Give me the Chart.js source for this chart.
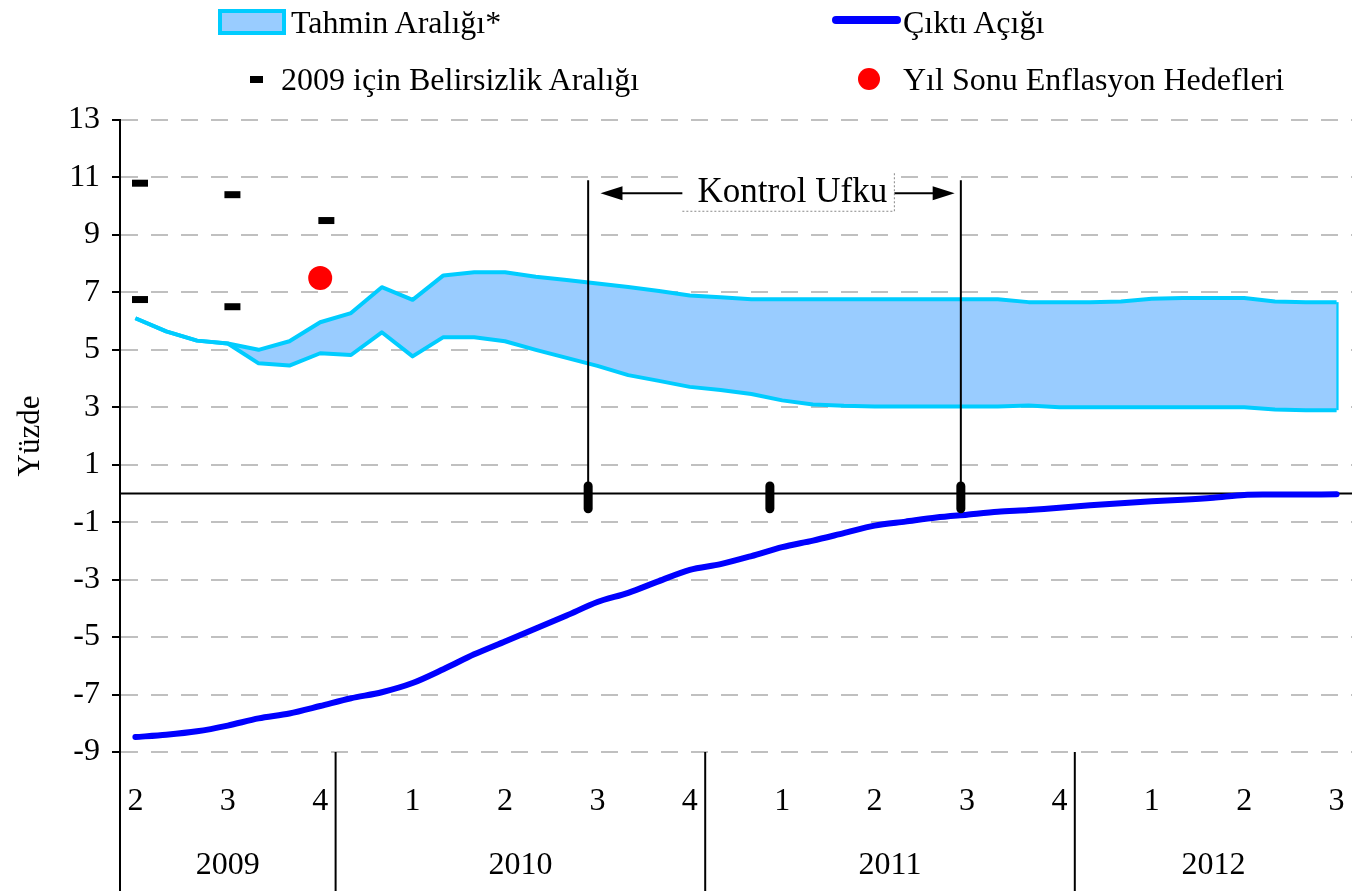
<!DOCTYPE html>
<html>
<head>
<meta charset="utf-8">
<script src="https://cdn.jsdelivr.net/npm/chart.js@4.4.0/dist/chart.umd.min.js"></script>
<style>
  body { margin: 0; background: #fff; }
  #wrap { position: relative; width: 1352px; height: 891px; font-family: "Liberation Serif", serif; }
  #wrap canvas { position: absolute; left: 0; top: 0; }
  .leg { position: absolute; }
  .txt { font-size: 32px; line-height: 32px; color: #000; white-space: nowrap; }
</style>
</head>
<body>
<div id="wrap">
  <canvas id="chart" width="1352" height="891"></canvas>
  <div class="leg" style="left:218px;top:9px;width:60px;height:18px;border:4px solid #00ccff;background:#99ccff"></div>
  <div class="leg txt" style="left:291px;top:6px">Tahmin Aralığı*</div>
  <div class="leg" style="left:832px;top:16px;width:69px;height:8px;background:#0000ff;border-radius:4px"></div>
  <div class="leg txt" style="left:903px;top:6px">Çıktı Açığı</div>
  <div class="leg" style="left:250px;top:76px;width:13px;height:7px;background:#000"></div>
  <div class="leg txt" style="left:281px;top:63px">2009 için Belirsizlik Aralığı</div>
  <div class="leg" style="left:858px;top:68px;width:22px;height:22px;border-radius:50%;background:#ff0000"></div>
  <div class="leg txt" style="left:903px;top:63px">Yıl Sonu Enflasyon Hedefleri</div>
</div>
<script>
// aylar (x ekseni: ay sırası)
const months = [
  "2009-06", "2009-07", "2009-08", "2009-09", "2009-10", "2009-11", "2009-12",
  "2010-01", "2010-02", "2010-03", "2010-04", "2010-05", "2010-06",
  "2010-07", "2010-08", "2010-09", "2010-10", "2010-11", "2010-12",
  "2011-01", "2011-02", "2011-03", "2011-04", "2011-05", "2011-06",
  "2011-07", "2011-08", "2011-09", "2011-10", "2011-11", "2011-12",
  "2012-01", "2012-02", "2012-03", "2012-04", "2012-05", "2012-06",
  "2012-07", "2012-08", "2012-09"
];
const quarterLabels = ["2", "3", "4", "1", "2", "3", "4", "1", "2", "3", "4", "1", "2", "3"];
const years = ["2009", "2010", "2011", "2012"];

const outputGap = [
  -8.48, -8.4, -8.28, -8.08, -7.83, -7.66, -7.4, -7.13, -6.92, -6.6,
  -6.12, -5.6, -5.15, -4.7, -4.25, -3.78, -3.46, -3.05, -2.66, -2.46,
  -2.18, -1.87, -1.64, -1.38, -1.12, -0.98, -0.84, -0.74, -0.64, -0.58,
  -0.5, -0.41, -0.34, -0.27, -0.22, -0.15, -0.05, -0.04, -0.04, -0.03
];
const bandUpper = [
  6.1, 5.64, 5.32, 5.22, 5.0, 5.3, 5.96, 6.28, 7.18, 6.74,
  7.59, 7.7, 7.7, 7.54, 7.43, 7.31, 7.19, 7.05, 6.89, 6.83,
  6.76, 6.76, 6.76, 6.76, 6.76, 6.76, 6.76, 6.76, 6.76, 6.66,
  6.66, 6.66, 6.68, 6.78, 6.8, 6.8, 6.8, 6.68, 6.66, 6.66
];
const bandLower = [
  6.1, 5.64, 5.32, 5.22, 4.53, 4.45, 4.88, 4.82, 5.61, 4.77,
  5.44, 5.44, 5.3, 5.0, 4.72, 4.44, 4.12, 3.92, 3.71, 3.6,
  3.46, 3.24, 3.1, 3.05, 3.03, 3.03, 3.03, 3.03, 3.03, 3.06,
  3.0, 3.0, 3.0, 3.0, 3.0, 3.0, 3.0, 2.92, 2.9, 2.9
];

// 2009 belirsizlik aralığı (alt / üst uçlar)
const rangeX = [0.15, 3.15, 6.2];
const rangeHigh = [10.8, 10.4, 9.5];
const rangeLow = [6.75, 6.5, 5.4];

// yıl sonu enflasyon hedefleri
const targetMonths = ["2009-12", "2010-12", "2011-12"];
const targets = [7.5, 6.5, 5.5];

// kontrol ufku
const ufkuMarks = [14.7, 20.6, 26.8];
const ufkuTop = 10.9, ufkuBottom = -0.67;
const ufkuMarkTop = 0.4;
const ufkuArrowY = 10.45, ufkuArrowFrom = 15.1, ufkuArrowTo = 26.6, ufkuTextX = 21.2;

const serif = "'Liberation Serif', 'Times New Roman', serif";

const xy = (arr) => arr.map((v, i) => ({ x: i, y: v }));

const extras = {
  id: "extras",
  beforeDatasetsDraw(chart) {
    const { ctx, chartArea: a, scales: { y } } = chart;
    const y0 = y.getPixelForValue(0);
    ctx.save();
    ctx.strokeStyle = "#000";
    ctx.lineWidth = 2;
    ctx.beginPath();
    ctx.moveTo(a.left, y0);
    ctx.lineTo(a.right, y0);
    ctx.stroke();
    ctx.restore();
  },
  afterDatasetsDraw(chart) {
    const { ctx, chartArea: a, scales: { x, y } } = chart;
    const H = chart.height;
    ctx.save();
    ctx.strokeStyle = "#000";
    ctx.fillStyle = "#000";
    ctx.lineWidth = 2;

    // y ekseni alta uzatma
    ctx.beginPath();
    ctx.moveTo(a.left, a.bottom);
    ctx.lineTo(a.left, H);
    ctx.stroke();

    // yıl ayraçları ve yıl etiketleri
    ctx.font = "32px " + serif;
    ctx.textAlign = "center";
    ctx.textBaseline = "middle";
    years.forEach((yr) => {
      const idx = months.map((m, i) => (m.startsWith(yr) ? i : -1)).filter((i) => i >= 0);
      const first = idx[0], last = idx[idx.length - 1];
      const x0 = Math.max(x.getPixelForValue(first - 0.5), a.left);
      const x1 = Math.min(x.getPixelForValue(last + 0.5), a.right);
      if (first > 0) {
        ctx.beginPath();
        ctx.moveTo(x0, a.bottom);
        ctx.lineTo(x0, H);
        ctx.stroke();
      }
      ctx.fillText(yr, (x0 + x1) / 2, 866);
    });

    // kontrol ufku dikey çizgileri
    [ufkuMarks[0], ufkuMarks[ufkuMarks.length - 1]].forEach((m) => {
      const px = x.getPixelForValue(m);
      ctx.beginPath();
      ctx.moveTo(px, y.getPixelForValue(ufkuTop));
      ctx.lineTo(px, y.getPixelForValue(ufkuBottom));
      ctx.stroke();
    });
    ctx.lineWidth = 9;
    ctx.lineCap = "round";
    ufkuMarks.forEach((m) => {
      const px = x.getPixelForValue(m);
      ctx.beginPath();
      ctx.moveTo(px, y.getPixelForValue(ufkuMarkTop) + 4);
      ctx.lineTo(px, y.getPixelForValue(ufkuBottom) - 4);
      ctx.stroke();
    });

    // ok
    const ay = y.getPixelForValue(ufkuArrowY);
    const ax0 = x.getPixelForValue(ufkuArrowFrom), ax1 = x.getPixelForValue(ufkuArrowTo);
    ctx.lineWidth = 2;
    ctx.lineCap = "butt";
    ctx.beginPath();
    ctx.moveTo(ax0 + 10, ay);
    ctx.lineTo(ax1 - 10, ay);
    ctx.stroke();
    ctx.beginPath();
    ctx.moveTo(ax0, ay); ctx.lineTo(ax0 + 22, ay - 7); ctx.lineTo(ax0 + 22, ay + 7); ctx.closePath();
    ctx.moveTo(ax1, ay); ctx.lineTo(ax1 - 22, ay - 7); ctx.lineTo(ax1 - 22, ay + 7); ctx.closePath();
    ctx.fill();

    const tx = x.getPixelForValue(ufkuTextX);
    ctx.fillStyle = "#fff";
    ctx.fillRect(tx - 106, ay - 18, 212, 36);
    ctx.strokeStyle = "#888";
    ctx.lineWidth = 1;
    ctx.setLineDash([2, 2]);
    ctx.beginPath();
    ctx.moveTo(tx - 106, ay + 18);
    ctx.lineTo(tx + 106, ay + 18);
    ctx.lineTo(tx + 106, ay - 20);
    ctx.stroke();
    ctx.setLineDash([]);
    ctx.fillStyle = "#000";
    ctx.font = "35px " + serif;
    ctx.fillText("Kontrol Ufku", tx + 4, ay);
    ctx.restore();
  }
};

new Chart(document.getElementById("chart"), {
  type: "line",
  data: {
    datasets: [
      {
        label: "Tahmin Aralığı üst",
        data: xy(bandUpper),
        borderColor: "#00ccff",
        borderWidth: 4,
        pointRadius: 0,
        fill: false,
        tension: 0,
        borderJoinStyle: "round",
      },
      {
        label: "Tahmin Aralığı alt",
        data: xy(bandLower),
        borderColor: "#00ccff",
        backgroundColor: "#99ccff",
        borderWidth: 4,
        pointRadius: 0,
        fill: "-1",
        tension: 0,
        borderJoinStyle: "round",
      },
      {
        label: "Tahmin Aralığı kenar",
        data: [
          { x: months.length - 1, y: bandLower[bandLower.length - 1] },
          { x: months.length - 1, y: bandUpper[bandUpper.length - 1] },
        ],
        borderColor: "#00ccff",
        borderWidth: 4,
        pointRadius: 0,
        fill: false,
      },
      {
        label: "Çıktı Açığı",
        data: xy(outputGap),
        borderColor: "#0000ff",
        borderWidth: 6,
        pointRadius: 0,
        tension: 0.3,
        fill: false,
        borderCapStyle: "round",
      },
      {
        label: "2009 için Belirsizlik Aralığı",
        data: rangeX.flatMap((m, i) => [{ x: m, y: rangeHigh[i] }, { x: m, y: rangeLow[i] }]),
        showLine: false,
        pointStyle: "line",
        pointRadius: 8,
        pointBorderWidth: 7,
        borderColor: "#000",
        backgroundColor: "#000",
      },
      {
        label: "Yıl Sonu Enflasyon Hedefleri",
        data: targetMonths.map((m, i) => ({ x: months.indexOf(m), y: targets[i] })),
        showLine: false,
        pointStyle: "circle",
        pointRadius: 12,
        pointBorderWidth: 0,
        backgroundColor: "#ff0000",
        borderColor: "#ff0000",
      },
    ],
  },
  options: {
    responsive: false,
    animation: false,
    layout: { autoPadding: false, padding: { top: 120, left: 0, right: 0, bottom: 0 } },
    plugins: {
      legend: { display: false },
      tooltip: { enabled: false },
    },
    scales: {
      x: {
        type: "linear",
        min: -0.5,
        max: 39.5,
        bounds: "data",
        grid: { display: false, drawTicks: false },
        border: { display: false },
        afterBuildTicks(scale) {
          scale.ticks = months
            .map((m, i) => ({ m, i }))
            .filter((o) => Number(o.m.slice(5)) % 3 === 0)
            .map((o) => ({ value: o.i }));
        },
        afterFit(scale) {
          scale.height = 139;
          scale.paddingLeft = 0;
          scale.paddingRight = 0;
        },
        ticks: {
          autoSkip: false,
          maxRotation: 0,
          padding: 30,
          color: "#000",
          font: { family: serif, size: 32 },
          callback: (v, i) => quarterLabels[i],
        },
      },
      y: {
        min: -9,
        max: 13,
        afterFit(scale) {
          scale.width = 120;
        },
        ticks: {
          stepSize: 2,
          padding: 12,
          color: "#000",
          font: { family: serif, size: 32 },
        },
        grid: {
          color: "#c0c0c0",
          lineWidth: 2,
          tickLength: 8,
          tickColor: "#000",
          tickWidth: 2,
          tickBorderDash: [],
        },
        border: { color: "#000", width: 2, dash: [17, 13] },
        title: {
          display: true,
          text: "Yüzde",
          color: "#000",
          font: { family: serif, size: 31 },
          padding: { top: 12, bottom: 0 },
        },
      },
    },
  },
  plugins: [extras],
});
</script>
</body>
</html>
